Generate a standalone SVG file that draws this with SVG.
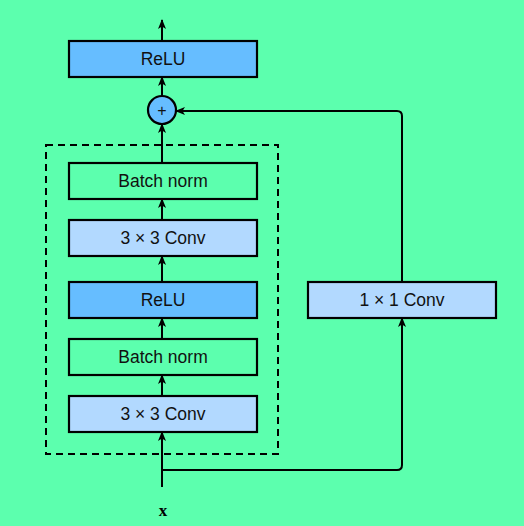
<svg xmlns="http://www.w3.org/2000/svg" width="524" height="526" viewBox="0 0 524 526">
<defs>
<marker id="a" viewBox="0 0 10 10" refX="9" refY="5" markerWidth="10" markerHeight="10" orient="auto" markerUnits="userSpaceOnUse">
<path d="M0,1 L10,5 L0,9 L2.5,5 Z" fill="#000"/>
</marker>
</defs>
<style>
.box{stroke:#000;stroke-width:2.2}
.dark{fill:#66BDFF}
.light{fill:#B2D9FF}
.bg{fill:#5CFFAE}
.lbl{font-family:"Liberation Sans",Arial,sans-serif;font-size:17.5px;text-anchor:middle;dominant-baseline:central;fill:#111}
.con{fill:none;stroke:#000;stroke-width:2}
</style>
<rect width="524" height="526" fill="#5CFFAE"/>
<g id="block">
<rect x="46" y="145" width="232" height="309" fill="none" stroke="#000" stroke-width="2" stroke-dasharray="7,5"/>
</g>
<g id="relu-out"><rect class="box dark" x="69" y="41" width="188" height="36"/><text class="lbl" x="163" y="59">ReLU</text></g>
<g id="add"><circle class="box dark" cx="162" cy="110" r="14"/><text class="lbl" x="162" y="110" style="font-size:16px">+</text></g>
<g id="bn2"><rect class="box bg" x="69" y="163" width="188" height="36"/><text class="lbl" x="163" y="181">Batch norm</text></g>
<g id="conv2"><rect class="box light" x="69" y="220" width="188" height="36"/><text class="lbl" x="163" y="238">3 × 3 Conv</text></g>
<g id="relu1"><rect class="box dark" x="69" y="282" width="188" height="36"/><text class="lbl" x="163" y="300">ReLU</text></g>
<g id="bn1"><rect class="box bg" x="69" y="339" width="188" height="36"/><text class="lbl" x="163" y="357">Batch norm</text></g>
<g id="conv1"><rect class="box light" x="69" y="396" width="188" height="36"/><text class="lbl" x="163" y="414">3 × 3 Conv</text></g>
<g id="conv1x1"><rect class="box light" x="308" y="282" width="188" height="36"/><text class="lbl" x="402" y="300">1 × 1 Conv</text></g>
<g id="input"><text x="163" y="510" style="font-family:'Liberation Serif',serif;font-weight:bold;font-size:17px;text-anchor:middle;dominant-baseline:central">x</text></g>
<g id="connectors">
<line class="con" x1="162" y1="41" x2="162" y2="20" marker-end="url(#a)"/>
<line class="con" x1="162" y1="96" x2="162" y2="77" marker-end="url(#a)"/>
<line class="con" x1="162" y1="163" x2="162" y2="124" marker-end="url(#a)"/>
<line class="con" x1="162" y1="220" x2="162" y2="199" marker-end="url(#a)"/>
<line class="con" x1="162" y1="282" x2="162" y2="256" marker-end="url(#a)"/>
<line class="con" x1="162" y1="339" x2="162" y2="318" marker-end="url(#a)"/>
<line class="con" x1="162" y1="396" x2="162" y2="375" marker-end="url(#a)"/>
<line class="con" x1="162" y1="487" x2="162" y2="432" marker-end="url(#a)"/>
<path class="con" d="M162,470 H397 Q402,470 402,465 V318" marker-end="url(#a)"/>
<path class="con" d="M402,282 V116 Q402,111 397,111 H176" marker-end="url(#a)"/>
</g>
</svg>
